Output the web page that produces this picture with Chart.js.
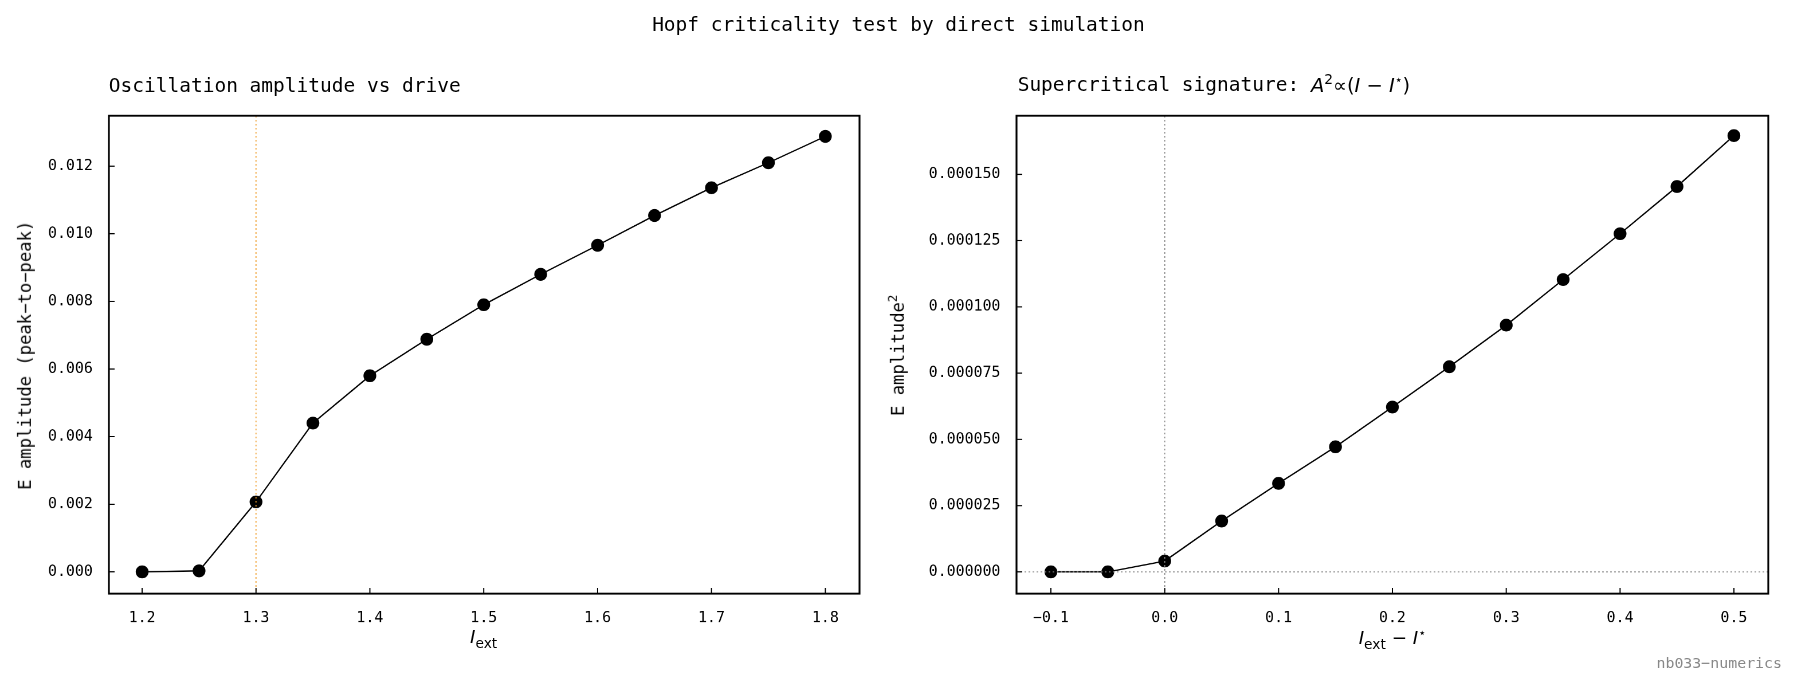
<!DOCTYPE html>
<html><head><meta charset="utf-8">
<script src="https://cdn.jsdelivr.net/npm/chart.js@4"></script>
<style>
html,body{margin:0;width:1797px;height:688px;background:#fff;overflow:hidden}
#w{position:absolute;left:0;top:0;width:1568px;height:600px;transform:scale(1.1460);transform-origin:0 0;font-family:"DejaVu Sans Mono",monospace}
.t{position:absolute;white-space:nowrap;color:#000}
.c{position:absolute}
.yl{position:absolute;transform:translate(-50%,-50%) rotate(-90deg);white-space:nowrap;font-size:15px}
.xl{position:absolute;transform:translateX(-50%);font-size:16px;font-family:"DejaVu Sans",sans-serif}
</style></head><body><div id="w">
<div class="t" style="left:0;width:1568px;text-align:center;top:11px;font-size:17px">Hopf criticality test by direct simulation</div>
<div class="t" style="left:95px;top:64px;font-size:17px">Oscillation amplitude vs drive</div>
<div class="t" style="left:888px;top:62px;font-size:17px">Supercritical signature: <span style="font-family:'DejaVu Sans';"><i>A</i><sup style="font-size:12px">2</sup>∝(<i>I</i> − <i>I</i><sup style="font-size:11px">⋆</sup>)</span></div>
<div class="c" style="left:0;top:60px;width:770px;height:540px"><canvas id="a"></canvas></div>
<div class="c" style="left:780px;top:60px;width:788px;height:540px"><canvas id="b"></canvas></div>
<div class="yl" style="left:22px;top:310px">E amplitude (peak−to−peak)</div>
<div class="yl" style="left:783px;top:310px">E amplitude<sup style="font-size:11px">2</sup></div>
<div class="xl" style="left:422px;top:546px"><i>I</i><sub style="font-size:12px">ext</sub></div>
<div class="xl" style="left:1215px;top:546px"><i>I</i><sub style="font-size:12px">ext</sub> − <i>I</i><sup style="font-size:11px">⋆</sup></div>
<div class="t" style="right:13px;top:571px;font-size:13px;color:#888">nb033−numerics</div>
</div>
<script>
const driveI=[1.2,1.25,1.3,1.35,1.4,1.45,1.5,1.55,1.6,1.65,1.7,1.75,1.8];
const ampPP=[0.0,0.00003,0.00207,0.0044,0.0058,0.00688,0.0079,0.0088,0.00966,0.01054,0.01136,0.0121,0.01288];
const shiftedI=[-0.1,-0.05,0.0,0.05,0.1,0.15,0.2,0.25,0.3,0.35,0.4,0.45,0.5];
const ampSq=[0.0,0.0,4.1e-6,19.2e-6,33.4e-6,47.2e-6,62.2e-6,77.4e-6,93.1e-6,110.3e-6,127.6e-6,145.4e-6,164.6e-6];
const leftXTicks=[1.2,1.3,1.4,1.5,1.6,1.7,1.8];
const leftYTicks=[0,0.002,0.004,0.006,0.008,0.01,0.012];
const rightXTicks=[-0.1,0,0.1,0.2,0.3,0.4,0.5];
const rightYTicks=[0,0.000025,0.00005,0.000075,0.0001,0.000125,0.00015];

const frame={id:'frame',afterDraw(c,a,o){
  const g=c.ctx,ca=c.chartArea,x=c.scales.x,y=c.scales.y;
  g.save();
  g.setLineDash([1.5,2]);g.lineWidth=0.9;
  (o.vlines||[]).forEach(v=>{g.strokeStyle=v.color;const px=x.getPixelForValue(v.v);g.beginPath();g.moveTo(px,ca.top);g.lineTo(px,ca.bottom);g.stroke();});
  (o.hlines||[]).forEach(v=>{g.strokeStyle=v.color;const py=y.getPixelForValue(v.v);g.beginPath();g.moveTo(ca.left,py);g.lineTo(ca.right,py);g.stroke();});
  g.setLineDash([]);g.strokeStyle='#000';g.lineWidth=1;
  x.ticks.forEach(t=>{const px=x.getPixelForValue(t.value);g.beginPath();g.moveTo(px,ca.bottom);g.lineTo(px,ca.bottom-5);g.stroke();});
  y.ticks.forEach(t=>{const py=y.getPixelForValue(t.value);g.beginPath();g.moveTo(ca.left,py);g.lineTo(ca.left+5,py);g.stroke();});
  g.lineWidth=1.6;g.strokeRect(ca.left,ca.top,ca.right-ca.left,ca.bottom-ca.top);
  g.restore();
}};
Chart.register(frame);
function mk(id,xs,ys,xr,yr,xt,yt,yw,padR,yfmt,xfmt,fr){
  new Chart(document.getElementById(id),{type:'scatter',
    data:{datasets:[{data:xs.map((v,i)=>({x:v,y:ys[i]})),showLine:true,borderColor:'#000',borderWidth:1.2,backgroundColor:'#000',pointRadius:5,pointHoverRadius:5}]},
    options:{responsive:true,maintainAspectRatio:false,animation:false,devicePixelRatio:2,
      layout:{padding:{top:41,right:padR,left:0,bottom:0}},
      plugins:{legend:{display:false},tooltip:{enabled:false},frame:fr},
      scales:{
        x:{type:'linear',min:xr[0],max:xr[1],grid:{display:false},border:{display:false},
          afterBuildTicks:s=>{s.ticks=xt.map(v=>({value:v}));},afterFit:s=>{s.height=82;},
          ticks:{color:'#000',font:{family:'DejaVu Sans Mono',size:13},padding:6,maxRotation:0,callback:xfmt}},
        y:{type:'linear',min:yr[0],max:yr[1],grid:{display:false},border:{display:false},
          afterBuildTicks:s=>{s.ticks=yt.map(v=>({value:v}));},afterFit:s=>{s.width=yw;},
          ticks:{color:'#000',font:{family:'DejaVu Sans Mono',size:13},padding:6,callback:yfmt}}}}});
}
mk('a',driveI,ampPP,[1.1708,1.830],[-0.000644,0.01349],leftXTicks,leftYTicks,95,20,v=>v.toFixed(3),v=>v.toFixed(1),{vlines:[{v:1.3,color:'#f0a030'}]});
mk('b',shiftedI,ampSq,[-0.1302,0.5302],[-8.2e-6,172.1e-6],rightXTicks,rightYTicks,107,25,v=>v.toFixed(6),v=>(Math.abs(v)<1e-9?0:v).toFixed(1).replace('-','−'),{vlines:[{v:0,color:'#888'}],hlines:[{v:0,color:'#888'}]});
</script>
</body></html>
